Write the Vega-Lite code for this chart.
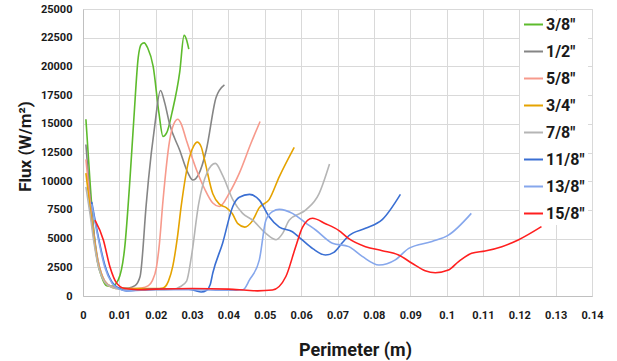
{
  "$schema": "https://vega.github.io/schema/vega-lite/v6.json",
  "width": 509,
  "height": 287,
  "autosize": "none",
  "padding": {"left": 83, "top": 9, "right": 25, "bottom": 65},
  "background": "white",
  "config": {
    "font": "Roboto",
    "view": {"stroke": "#d9d9d9"},
    "axis": {
      "gridColor": "#d9d9d9",
      "domainColor": "#c0c0c0",
      "ticks": false,
      "tickSize": 0,
      "labelFont": "Roboto",
      "labelFontSize": 11,
      "labelFontWeight": "bold",
      "labelColor": "#1a1a1a",
      "titleFont": "Roboto",
      "titleFontSize": 17,
      "titleFontWeight": "bold",
      "titleColor": "#1a1a1a"
    }
  },
  "data": {
    "values": [
      {"s": "3/8\"", "x": 0.0008, "y": 15400}, {"s": "3/8\"", "x": 0.0019, "y": 10100}, {"s": "3/8\"", "x": 0.003, "y": 5500}, {"s": "3/8\"", "x": 0.004, "y": 3000}, {"s": "3/8\"", "x": 0.0051, "y": 1700}, {"s": "3/8\"", "x": 0.0065, "y": 900}, {"s": "3/8\"", "x": 0.008, "y": 850}, {"s": "3/8\"", "x": 0.0097, "y": 1400}, {"s": "3/8\"", "x": 0.0115, "y": 4300}, {"s": "3/8\"", "x": 0.0129, "y": 10100}, {"s": "3/8\"", "x": 0.014, "y": 15500}, {"s": "3/8\"", "x": 0.0152, "y": 20800}, {"s": "3/8\"", "x": 0.016, "y": 21900}, {"s": "3/8\"", "x": 0.0168, "y": 22050}, {"s": "3/8\"", "x": 0.0178, "y": 21600}, {"s": "3/8\"", "x": 0.0193, "y": 20000}, {"s": "3/8\"", "x": 0.0209, "y": 15900}, {"s": "3/8\"", "x": 0.022, "y": 13900}, {"s": "3/8\"", "x": 0.023, "y": 14200}, {"s": "3/8\"", "x": 0.0245, "y": 16000}, {"s": "3/8\"", "x": 0.0266, "y": 19500}, {"s": "3/8\"", "x": 0.0278, "y": 22700}, {"s": "3/8\"", "x": 0.0285, "y": 22300}, {"s": "3/8\"", "x": 0.0291, "y": 21500},

      {"s": "1/2\"", "x": 0.0008, "y": 13200}, {"s": "1/2\"", "x": 0.002, "y": 8500}, {"s": "1/2\"", "x": 0.003, "y": 5500}, {"s": "1/2\"", "x": 0.004, "y": 3300}, {"s": "1/2\"", "x": 0.005, "y": 2000}, {"s": "1/2\"", "x": 0.006, "y": 1300}, {"s": "1/2\"", "x": 0.008, "y": 800}, {"s": "1/2\"", "x": 0.01, "y": 700}, {"s": "1/2\"", "x": 0.0125, "y": 700}, {"s": "1/2\"", "x": 0.0143, "y": 900}, {"s": "1/2\"", "x": 0.0157, "y": 1700}, {"s": "1/2\"", "x": 0.0174, "y": 8000}, {"s": "1/2\"", "x": 0.018, "y": 10100}, {"s": "1/2\"", "x": 0.0197, "y": 14750}, {"s": "1/2\"", "x": 0.0213, "y": 17900}, {"s": "1/2\"", "x": 0.0225, "y": 16800}, {"s": "1/2\"", "x": 0.0238, "y": 15000}, {"s": "1/2\"", "x": 0.0266, "y": 12700}, {"s": "1/2\"", "x": 0.0289, "y": 10700}, {"s": "1/2\"", "x": 0.0302, "y": 10100}, {"s": "1/2\"", "x": 0.0318, "y": 10600}, {"s": "1/2\"", "x": 0.0339, "y": 12700}, {"s": "1/2\"", "x": 0.0366, "y": 17300}, {"s": "1/2\"", "x": 0.0389, "y": 18400},

      {"s": "5/8\"", "x": 0.0008, "y": 11900}, {"s": "5/8\"", "x": 0.002, "y": 8000}, {"s": "5/8\"", "x": 0.003, "y": 5200}, {"s": "5/8\"", "x": 0.004, "y": 3200}, {"s": "5/8\"", "x": 0.005, "y": 2000}, {"s": "5/8\"", "x": 0.006, "y": 1300}, {"s": "5/8\"", "x": 0.008, "y": 800}, {"s": "5/8\"", "x": 0.01, "y": 650}, {"s": "5/8\"", "x": 0.013, "y": 650}, {"s": "5/8\"", "x": 0.016, "y": 700}, {"s": "5/8\"", "x": 0.018, "y": 900}, {"s": "5/8\"", "x": 0.019, "y": 1300}, {"s": "5/8\"", "x": 0.0202, "y": 2500}, {"s": "5/8\"", "x": 0.021, "y": 4500}, {"s": "5/8\"", "x": 0.022, "y": 8300}, {"s": "5/8\"", "x": 0.0238, "y": 13500}, {"s": "5/8\"", "x": 0.025, "y": 15000}, {"s": "5/8\"", "x": 0.0261, "y": 15400}, {"s": "5/8\"", "x": 0.027, "y": 15000}, {"s": "5/8\"", "x": 0.0284, "y": 13600}, {"s": "5/8\"", "x": 0.0312, "y": 11000}, {"s": "5/8\"", "x": 0.0335, "y": 9300}, {"s": "5/8\"", "x": 0.0357, "y": 8100}, {"s": "5/8\"", "x": 0.0375, "y": 7800}, {"s": "5/8\"", "x": 0.0403, "y": 9000}, {"s": "5/8\"", "x": 0.043, "y": 10700}, {"s": "5/8\"", "x": 0.0462, "y": 13300}, {"s": "5/8\"", "x": 0.0487, "y": 15200},

      {"s": "3/4\"", "x": 0.0008, "y": 10700}, {"s": "3/4\"", "x": 0.002, "y": 7500}, {"s": "3/4\"", "x": 0.003, "y": 5000}, {"s": "3/4\"", "x": 0.004, "y": 3000}, {"s": "3/4\"", "x": 0.005, "y": 1900}, {"s": "3/4\"", "x": 0.006, "y": 1200}, {"s": "3/4\"", "x": 0.008, "y": 750}, {"s": "3/4\"", "x": 0.01, "y": 650}, {"s": "3/4\"", "x": 0.015, "y": 650}, {"s": "3/4\"", "x": 0.02, "y": 650}, {"s": "3/4\"", "x": 0.022, "y": 700}, {"s": "3/4\"", "x": 0.0235, "y": 1300}, {"s": "3/4\"", "x": 0.0247, "y": 2600}, {"s": "3/4\"", "x": 0.026, "y": 5200}, {"s": "3/4\"", "x": 0.027, "y": 7800}, {"s": "3/4\"", "x": 0.0293, "y": 12100}, {"s": "3/4\"", "x": 0.0305, "y": 13100}, {"s": "3/4\"", "x": 0.0314, "y": 13400}, {"s": "3/4\"", "x": 0.0325, "y": 13000}, {"s": "3/4\"", "x": 0.0334, "y": 11900}, {"s": "3/4\"", "x": 0.0357, "y": 8900}, {"s": "3/4\"", "x": 0.0375, "y": 8000}, {"s": "3/4\"", "x": 0.0394, "y": 7700}, {"s": "3/4\"", "x": 0.041, "y": 7200}, {"s": "3/4\"", "x": 0.0426, "y": 6300}, {"s": "3/4\"", "x": 0.0445, "y": 6000}, {"s": "3/4\"", "x": 0.0465, "y": 6500}, {"s": "3/4\"", "x": 0.0485, "y": 7700}, {"s": "3/4\"", "x": 0.0512, "y": 8400}, {"s": "3/4\"", "x": 0.054, "y": 10400}, {"s": "3/4\"", "x": 0.0581, "y": 12950},

      {"s": "7/8\"", "x": 0.0008, "y": 9500}, {"s": "7/8\"", "x": 0.002, "y": 7000}, {"s": "7/8\"", "x": 0.003, "y": 4700}, {"s": "7/8\"", "x": 0.004, "y": 2900}, {"s": "7/8\"", "x": 0.005, "y": 1800}, {"s": "7/8\"", "x": 0.006, "y": 1200}, {"s": "7/8\"", "x": 0.008, "y": 750}, {"s": "7/8\"", "x": 0.01, "y": 600}, {"s": "7/8\"", "x": 0.015, "y": 550}, {"s": "7/8\"", "x": 0.02, "y": 550}, {"s": "7/8\"", "x": 0.025, "y": 600}, {"s": "7/8\"", "x": 0.0267, "y": 810}, {"s": "7/8\"", "x": 0.0285, "y": 1300}, {"s": "7/8\"", "x": 0.0298, "y": 3400}, {"s": "7/8\"", "x": 0.0318, "y": 8000}, {"s": "7/8\"", "x": 0.0342, "y": 10800}, {"s": "7/8\"", "x": 0.0364, "y": 11550}, {"s": "7/8\"", "x": 0.0384, "y": 10500}, {"s": "7/8\"", "x": 0.0412, "y": 8400}, {"s": "7/8\"", "x": 0.0439, "y": 7200}, {"s": "7/8\"", "x": 0.0467, "y": 6600}, {"s": "7/8\"", "x": 0.0503, "y": 5450}, {"s": "7/8\"", "x": 0.0531, "y": 4900}, {"s": "7/8\"", "x": 0.055, "y": 5500}, {"s": "7/8\"", "x": 0.0567, "y": 6600}, {"s": "7/8\"", "x": 0.0613, "y": 7500}, {"s": "7/8\"", "x": 0.0649, "y": 8900}, {"s": "7/8\"", "x": 0.0678, "y": 11500},

      {"s": "11/8\"", "x": 0.0024, "y": 8200}, {"s": "11/8\"", "x": 0.004, "y": 5500}, {"s": "11/8\"", "x": 0.006, "y": 2700}, {"s": "11/8\"", "x": 0.008, "y": 1200}, {"s": "11/8\"", "x": 0.01, "y": 650}, {"s": "11/8\"", "x": 0.012, "y": 450}, {"s": "11/8\"", "x": 0.016, "y": 550}, {"s": "11/8\"", "x": 0.02, "y": 600}, {"s": "11/8\"", "x": 0.025, "y": 600}, {"s": "11/8\"", "x": 0.029, "y": 600}, {"s": "11/8\"", "x": 0.031, "y": 450}, {"s": "11/8\"", "x": 0.0325, "y": 350}, {"s": "11/8\"", "x": 0.034, "y": 500}, {"s": "11/8\"", "x": 0.035, "y": 1000}, {"s": "11/8\"", "x": 0.0357, "y": 2000}, {"s": "11/8\"", "x": 0.0384, "y": 4600}, {"s": "11/8\"", "x": 0.0412, "y": 7800}, {"s": "11/8\"", "x": 0.043, "y": 8600}, {"s": "11/8\"", "x": 0.0458, "y": 8850}, {"s": "11/8\"", "x": 0.0485, "y": 8350}, {"s": "11/8\"", "x": 0.0512, "y": 6900}, {"s": "11/8\"", "x": 0.054, "y": 6000}, {"s": "11/8\"", "x": 0.0576, "y": 5600}, {"s": "11/8\"", "x": 0.0597, "y": 5050}, {"s": "11/8\"", "x": 0.0633, "y": 4100}, {"s": "11/8\"", "x": 0.0667, "y": 3570}, {"s": "11/8\"", "x": 0.069, "y": 3800}, {"s": "11/8\"", "x": 0.0715, "y": 4700}, {"s": "11/8\"", "x": 0.0731, "y": 5250}, {"s": "11/8\"", "x": 0.0777, "y": 5900}, {"s": "11/8\"", "x": 0.0823, "y": 6650}, {"s": "11/8\"", "x": 0.0873, "y": 8850},

      {"s": "13/8\"", "x": 0.0024, "y": 8000}, {"s": "13/8\"", "x": 0.004, "y": 5300}, {"s": "13/8\"", "x": 0.006, "y": 2500}, {"s": "13/8\"", "x": 0.008, "y": 1100}, {"s": "13/8\"", "x": 0.01, "y": 600}, {"s": "13/8\"", "x": 0.012, "y": 450}, {"s": "13/8\"", "x": 0.02, "y": 550}, {"s": "13/8\"", "x": 0.03, "y": 550}, {"s": "13/8\"", "x": 0.04, "y": 500}, {"s": "13/8\"", "x": 0.044, "y": 550}, {"s": "13/8\"", "x": 0.0458, "y": 1400}, {"s": "13/8\"", "x": 0.0485, "y": 3150}, {"s": "13/8\"", "x": 0.0503, "y": 6600}, {"s": "13/8\"", "x": 0.0521, "y": 7350}, {"s": "13/8\"", "x": 0.054, "y": 7550}, {"s": "13/8\"", "x": 0.0576, "y": 7200}, {"s": "13/8\"", "x": 0.0613, "y": 6350}, {"s": "13/8\"", "x": 0.064, "y": 5750}, {"s": "13/8\"", "x": 0.0686, "y": 4600}, {"s": "13/8\"", "x": 0.0731, "y": 4300}, {"s": "13/8\"", "x": 0.0768, "y": 3450}, {"s": "13/8\"", "x": 0.0814, "y": 2700}, {"s": "13/8\"", "x": 0.0859, "y": 3150}, {"s": "13/8\"", "x": 0.0896, "y": 4150}, {"s": "13/8\"", "x": 0.096, "y": 4750}, {"s": "13/8\"", "x": 0.1005, "y": 5300}, {"s": "13/8\"", "x": 0.1068, "y": 7200},

      {"s": "15/8\"", "x": 0.0033, "y": 6600}, {"s": "15/8\"", "x": 0.0056, "y": 4880}, {"s": "15/8\"", "x": 0.0074, "y": 2550}, {"s": "15/8\"", "x": 0.0093, "y": 1100}, {"s": "15/8\"", "x": 0.0115, "y": 650}, {"s": "15/8\"", "x": 0.015, "y": 550}, {"s": "15/8\"", "x": 0.02, "y": 600}, {"s": "15/8\"", "x": 0.03, "y": 650}, {"s": "15/8\"", "x": 0.04, "y": 600}, {"s": "15/8\"", "x": 0.045, "y": 500}, {"s": "15/8\"", "x": 0.048, "y": 450}, {"s": "15/8\"", "x": 0.0521, "y": 520}, {"s": "15/8\"", "x": 0.0558, "y": 1700}, {"s": "15/8\"", "x": 0.0585, "y": 4300}, {"s": "15/8\"", "x": 0.0604, "y": 6000}, {"s": "15/8\"", "x": 0.0631, "y": 6770}, {"s": "15/8\"", "x": 0.0667, "y": 6300}, {"s": "15/8\"", "x": 0.0704, "y": 5700}, {"s": "15/8\"", "x": 0.0731, "y": 5000}, {"s": "15/8\"", "x": 0.0777, "y": 4300}, {"s": "15/8\"", "x": 0.0823, "y": 3950}, {"s": "15/8\"", "x": 0.0868, "y": 3570}, {"s": "15/8\"", "x": 0.0905, "y": 2850}, {"s": "15/8\"", "x": 0.0941, "y": 2200}, {"s": "15/8\"", "x": 0.0969, "y": 2030}, {"s": "15/8\"", "x": 0.1005, "y": 2260}, {"s": "15/8\"", "x": 0.1033, "y": 3000}, {"s": "15/8\"", "x": 0.1069, "y": 3720}, {"s": "15/8\"", "x": 0.1106, "y": 3920}, {"s": "15/8\"", "x": 0.1152, "y": 4300}, {"s": "15/8\"", "x": 0.1197, "y": 4880}, {"s": "15/8\"", "x": 0.1261, "y": 6040}
    ]
  },
  "mark": {"type": "line", "interpolate": "monotone", "strokeWidth": 1.6},
  "encoding": {
    "x": {
      "field": "x", "type": "quantitative",
      "scale": {"domain": [0, 0.14], "nice": false, "zero": false},
      "axis": {
        "title": "Perimeter (m)",
        "values": [0, 0.01, 0.02, 0.03, 0.04, 0.05, 0.06, 0.07, 0.08, 0.09, 0.1, 0.11, 0.12, 0.13, 0.14],
        "format": ".2~f",
        "labelPadding": 13,
        "labelFlush": false,
        "titleX": 272,
        "titleY": 54,
        "titleBaseline": "middle",
        "titleAlign": "center",
        "titleFontSize": 18
      }
    },
    "y": {
      "field": "y", "type": "quantitative",
      "scale": {"domain": [0, 25000], "nice": false},
      "axis": {
        "title": "Flux (W/m²)",
        "values": [0, 2500, 5000, 7500, 10000, 12500, 15000, 17500, 20000, 22500, 25000],
        "format": "d",
        "labelPadding": 11,
        "titleX": -58,
        "titleY": 137,
        "titleAngle": -90,
        "titleAlign": "center",
        "titleBaseline": "middle"
      }
    },
    "color": {
      "field": "s", "type": "nominal",
      "scale": {
        "domain": ["3/8\"", "1/2\"", "5/8\"", "3/4\"", "7/8\"", "11/8\"", "13/8\"", "15/8\""],
        "range": ["#5DBB2C", "#858585", "#F79A8C", "#E5A300", "#B5B5B5", "#3A6FD3", "#86A7EC", "#FF1F1F"]
      },
      "legend": {
        "orient": "none",
        "legendX": 437,
        "legendY": 2,
        "title": null,
        "fillColor": "white",
        "padding": 3,
        "symbolType": "stroke",
        "symbolSize": 361,
        "symbolStrokeWidth": 2,
        "labelFont": "Roboto",
        "labelFontSize": 16,
        "labelFontWeight": "bold",
        "labelColor": "#1a1a1a",
        "rowPadding": 8,
        "labelOffset": 2
      }
    }
  }
}
